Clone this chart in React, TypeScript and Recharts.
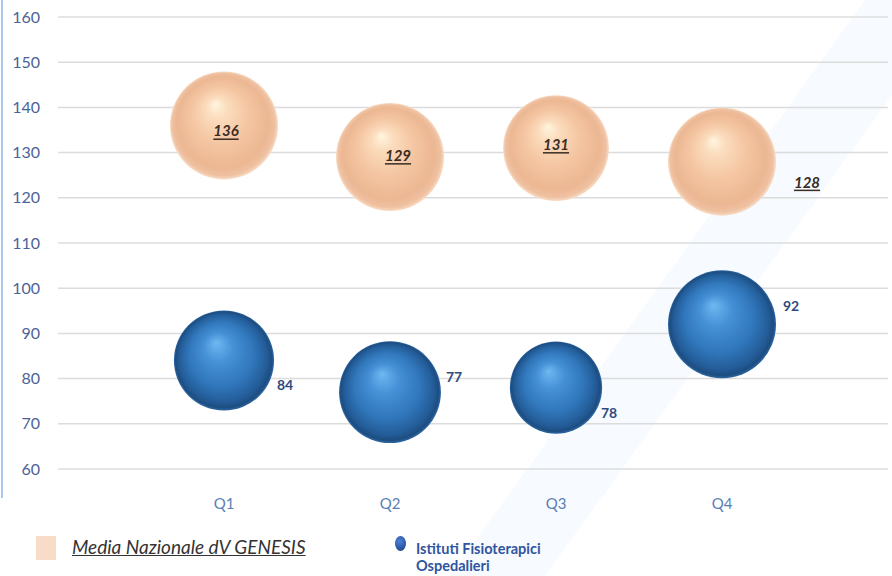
import React from "react";
import { ScatterChart, Scatter, XAxis, YAxis, ZAxis, CartesianGrid } from "recharts";

// ---- data ----
const categories = ["Q1", "Q2", "Q3", "Q4"];
const mediaNazionale = [136, 129, 131, 128];
const istitutiFisioterapici = [84, 77, 78, 92];
const mediaBubbleSize = [100, 100, 96, 100];
const istitutiBubbleSize = [86, 89, 73, 100];
const yTicks = [60, 70, 80, 90, 100, 110, 120, 130, 140, 150, 160];
const seriesNames = ["Media Nazionale dV GENESIS", "Istituti Fisioterapici Ospedalieri"];

// ---- label placement (style) ----
const mediaLabelOffsets = [[2, 5], [8, -2], [0, -4], [85, 20]];
const istitutiLabelOffsets = [[61, 24], [64, -16], [53, 25], [69, -19]];

const mediaData = categories.map((c, i) => ({ x: i + 1, y: mediaNazionale[i], z: mediaBubbleSize[i], name: c }));
const istitutiData = categories.map((c, i) => ({ x: i + 1, y: istitutiFisioterapici[i], z: istitutiBubbleSize[i], name: c }));

const FONT = "Lato, 'Open Sans', sans-serif";

function bubbleRadius(props: any) {
  if (props.width) return props.width / 2;
  return Math.sqrt(Math.max(props.size || 0, 0) / Math.PI);
}

const PeachBubble = (props: any) => {
  const { cx, cy, payload } = props;
  const r = bubbleRadius(props);
  const i = payload.x - 1;
  const id = `peachGrad${i}`;
  const [dx, dy] = mediaLabelOffsets[i];
  return (
    <g>
      <defs>
        <radialGradient id={id} cx="0.5" cy="0.5" r="0.5" fx="0.42" fy="0.3">
          <stop offset="0" stopColor="#fff5de" />
          <stop offset="0.2" stopColor="#fbdcbd" />
          <stop offset="0.55" stopColor="#f4c4a0" />
          <stop offset="0.85" stopColor="#ecb793" />
          <stop offset="0.95" stopColor="#efc1a1" />
          <stop offset="1" stopColor="#f8dcc6" />
        </radialGradient>
      </defs>
      <circle cx={cx} cy={cy} r={r} fill={`url(#${id})`} />
      <text
        x={cx + dx}
        y={cy + dy}
        textAnchor="middle"
        dominantBaseline="central"
        fontFamily={FONT}
        fontSize={15}
        fontStyle="italic"
        fontWeight="bold"
        fill="#3a2c24"
        style={{ textDecoration: "underline" }}
      >
        {payload.y}
      </text>
    </g>
  );
};

const BlueBubble = (props: any) => {
  const { cx, cy, payload } = props;
  const r = bubbleRadius(props);
  const i = payload.x - 1;
  const id = `blueGrad${i}`;
  const [dx, dy] = istitutiLabelOffsets[i];
  return (
    <g>
      <defs>
        <radialGradient id={id} cx="0.5" cy="0.5" r="0.5" fx="0.42" fy="0.32">
          <stop offset="0" stopColor="#6fb8f2" />
          <stop offset="0.3" stopColor="#4590d6" />
          <stop offset="0.65" stopColor="#3076ba" />
          <stop offset="0.88" stopColor="#235c98" />
          <stop offset="0.96" stopColor="#1d4d80" />
          <stop offset="1" stopColor="#2f69a6" />
        </radialGradient>
      </defs>
      <circle cx={cx} cy={cy} r={r} fill={`url(#${id})`} />
      <text
        x={cx + dx}
        y={cy + dy}
        textAnchor="middle"
        dominantBaseline="central"
        fontFamily={FONT}
        fontSize={14}
        fontWeight="bold"
        fill="#2f4a7c"
      >
        {payload.y}
      </text>
    </g>
  );
};

export default function App() {
  return (
    <div style={{ position: "absolute", left: 0, top: 0, width: 892, height: 576, background: "#ffffff", overflow: "hidden" }}>
      <svg width={892} height={576} style={{ position: "absolute", left: 0, top: 0 }}>
        <polygon points="450,576 545,576 892,95 892,0 865,0" fill="#f7fafe" />
      </svg>
      <div style={{ position: "absolute", left: 1, top: 0, width: 2, height: 498, background: "#a9c8ea" }} />
      <div style={{ position: "absolute", left: 0, top: 0 }}>
        <ScatterChart width={892} height={576} margin={{ top: 17, right: 4, bottom: 67, left: 0 }}>
          <CartesianGrid horizontal vertical={false} stroke="#dcdcdc" strokeWidth={1.5} />
          <XAxis
            type="number"
            dataKey="x"
            domain={[0, 5]}
            ticks={[1, 2, 3, 4]}
            tickFormatter={(v: number) => categories[v - 1] ?? ""}
            axisLine={false}
            tickLine={false}
            tickMargin={23}
            height={40}
            tick={{ fill: "#5b7fb4", fontSize: 15, fontFamily: FONT }}
            interval={0}
          />
          <YAxis
            type="number"
            dataKey="y"
            domain={[60, 160]}
            ticks={yTicks}
            axisLine={false}
            tickLine={false}
            tickMargin={12}
            width={58}
            tick={{ fill: "#4b6398", fontSize: 16, fontFamily: FONT }}
            interval={0}
          />
          <ZAxis type="number" dataKey="z" domain={[0, 100]} range={[0, Math.PI * 54 * 54]} />
          <Scatter name={seriesNames[0]} data={mediaData} shape={PeachBubble} isAnimationActive={false} />
          <Scatter name={seriesNames[1]} data={istitutiData} shape={BlueBubble} isAnimationActive={false} />
        </ScatterChart>
      </div>
      {/* legend */}
      <div style={{ position: "absolute", left: 36, top: 536, width: 20, height: 24, background: "#f8dcc8" }} />
      <div
        style={{
          position: "absolute",
          left: 72,
          top: 536,
          fontFamily: FONT,
          fontSize: 19,
          fontStyle: "italic",
          textDecoration: "underline",
          color: "#333333",
          whiteSpace: "nowrap",
          lineHeight: "22px",
        }}
      >
        {seriesNames[0]}
      </div>
      <div
        style={{
          position: "absolute",
          left: 395,
          top: 536,
          width: 11,
          height: 15,
          borderRadius: "50%",
          background: "radial-gradient(circle at 40% 35%, #4f7fd6 0%, #2f5aa8 55%, #1c3c7a 100%)",
        }}
      />
      <div
        style={{
          position: "absolute",
          left: 416,
          top: 540,
          width: 180,
          fontFamily: FONT,
          fontSize: 14.5,
          fontWeight: "bold",
          color: "#2f55a0",
          lineHeight: "17px",
          whiteSpace: "nowrap",
        }}
      >
        Istituti Fisioterapici
        <br />
        Ospedalieri
      </div>
    </div>
  );
}
